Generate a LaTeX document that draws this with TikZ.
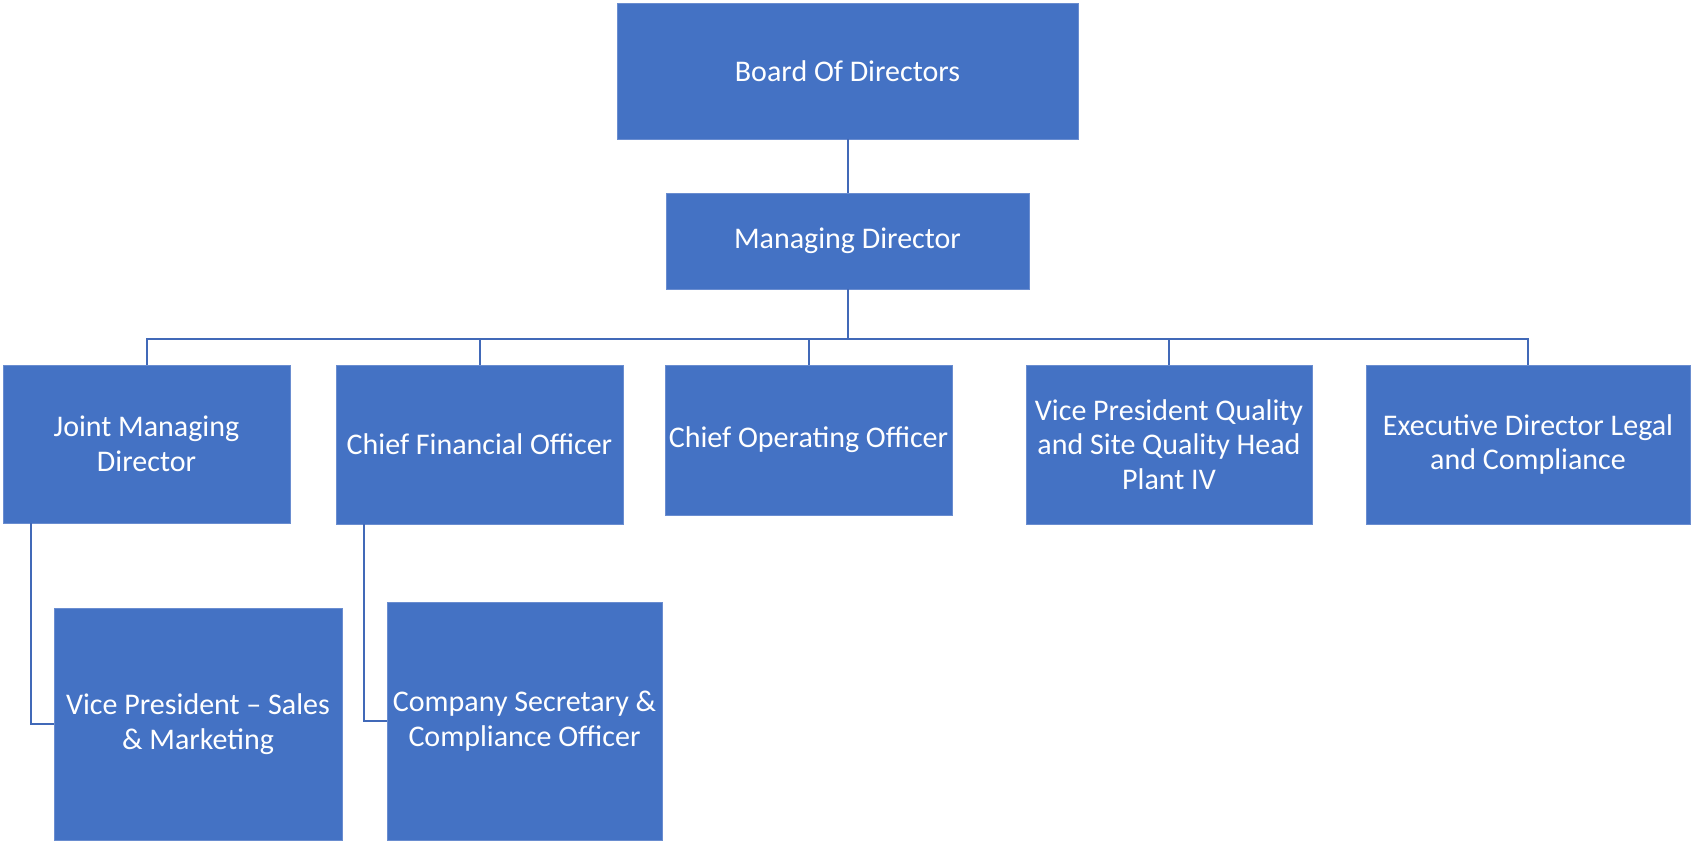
\documentclass[tikz,border=0pt]{standalone}
\usepackage{fontspec}
\setmainfont{Carlito}
\definecolor{boxblue}{HTML}{4472C4}
\definecolor{edgeblue}{HTML}{6A8DD0}
\definecolor{lineblue}{HTML}{4169B8}
\begin{document}
\begin{tikzpicture}[x=1pt,y=-1pt,
  orgbox/.style={rectangle, fill=boxblue, draw=edgeblue, line width=0.8pt,
    text=white, align=center, inner sep=0pt,
    font=\fontsize{30}{34.5}\selectfont},
  conn/.style={draw=lineblue, line width=2pt}]
\useasboundingbox (0,0) rectangle (1692,842);
\node[orgbox, minimum width=461pt, minimum height=136pt] (board) at (847.5,71) {Board Of Directors};
\node[orgbox, minimum width=363pt, minimum height=96pt] (md) at (847.5,241) {Managing Director};
\node[orgbox, minimum width=287pt, minimum height=158pt] (jmd) at (146.5,444) {Joint Managing\\Director};
\node[orgbox, minimum width=287pt, minimum height=159pt] (cfo) at (479.5,444.5) {Chief Financial Officer};
\node[orgbox, minimum width=287pt, minimum height=150pt] (coo) at (808.5,440) {Chief Operating Officer};
\node[orgbox, minimum width=286pt, minimum height=159pt] (vpq) at (1169,444.5) {Vice President Quality\\and Site Quality Head\\Plant IV};
\node[orgbox, minimum width=324pt, minimum height=159pt] (edl) at (1528,444.5) {Executive Director Legal\\and Compliance};
\node[orgbox, minimum width=288pt, minimum height=232pt] (vps) at (198,724) {Vice President -- Sales\\\& Marketing};
\node[orgbox, minimum width=275pt, minimum height=238pt] (cs) at (524.5,721) {Company Secretary \&\\Compliance Officer};
\coordinate (bus) at (847.5,339);
\draw[conn] (board.south) -- (md.north);
\draw[conn] (md.south) -- (bus);
\draw[conn] (bus) -| (jmd.north);
\draw[conn] (bus) -| (cfo.north);
\draw[conn] (bus) -| (coo.north);
\draw[conn] (bus) -| (vpq.north);
\draw[conn] (bus) -| (edl.north);
\draw[conn] ([xshift=28pt]jmd.south west) |- (vps.west);
\draw[conn] ([xshift=28pt]cfo.south west) |- (cs.west);
\end{tikzpicture}
\end{document}
